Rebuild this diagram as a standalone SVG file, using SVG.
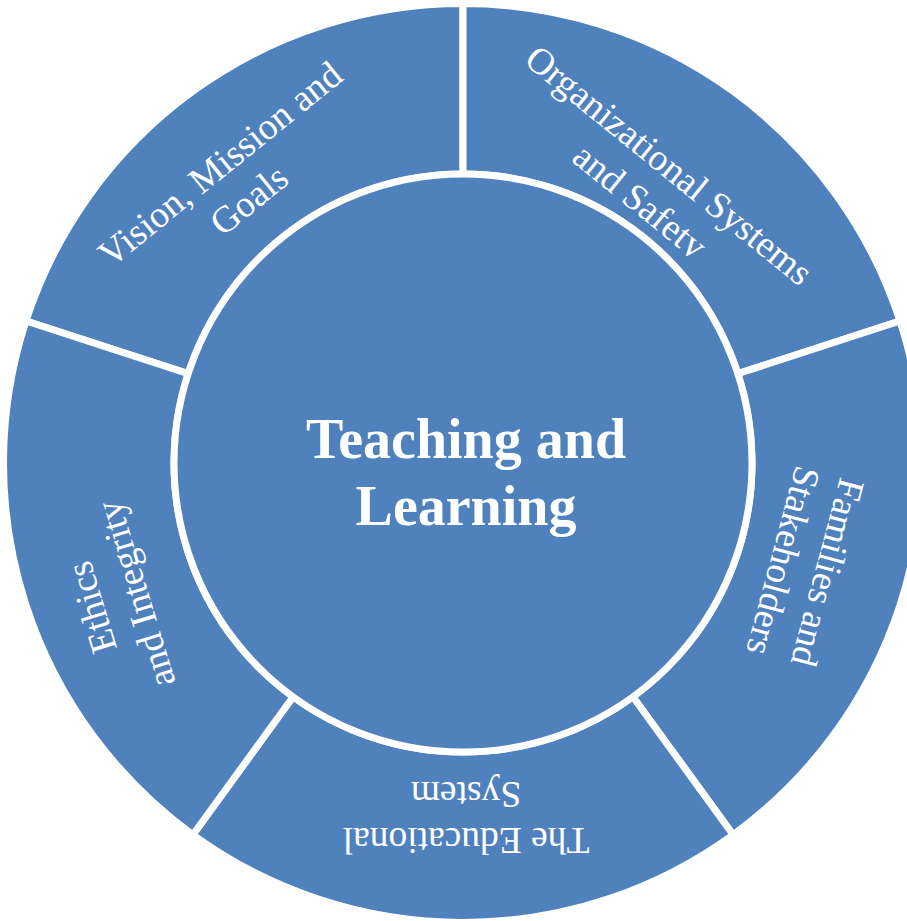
<svg xmlns="http://www.w3.org/2000/svg" width="907" height="921" viewBox="0 0 907 921">
<style>
.seg{fill:#4F81BD;stroke:#FFFFFF;stroke-width:7;stroke-linejoin:miter}
.hub{fill:#4F81BD;stroke:#FFFFFF;stroke-width:7}
.lbl{font-family:"Liberation Serif","Times New Roman",serif;font-size:37.5px;fill:#FFFFFF;text-anchor:middle}
.ctr{font-family:"Liberation Serif","Times New Roman",serif;font-size:56px;font-weight:bold;fill:#FFFFFF;text-anchor:middle}
</style>
<defs>
<clipPath id="clipSafety" clipPathUnits="userSpaceOnUse"><rect x="-300" y="-90" width="600" height="124"/></clipPath>
</defs>
<rect width="907" height="921" fill="#FFFFFF"/>
<g id="vision">
<path class="seg" d="M25.99 321.01 A459.5 459.5 0 0 1 463 3.5 L463 174 A289 289 0 0 0 188.14 373.69 Z"/>
<g transform="translate(236,184) rotate(-39)">
<text class="lbl" x="0" y="-13">Vision, Mission and</text>
<text class="lbl" x="0" y="33">Goals</text>
</g>
</g>
<g id="organizational">
<path class="seg" d="M463 3.5 A459.5 459.5 0 0 1 900.01 321.01 L737.86 373.69 A289 289 0 0 0 463 174 Z"/>
<g transform="translate(653,185) rotate(39)">
<text class="lbl" x="0" y="-13">Organizational Systems</text>
<text class="lbl" x="0" y="33" clip-path="url(#clipSafety)">and Safety</text>
</g>
</g>
<g id="families">
<path class="seg" d="M900.01 321.01 A459.5 459.5 0 0 1 733.09 834.74 L632.87 696.81 A289 289 0 0 0 737.86 373.69 Z"/>
<g transform="translate(803,566) rotate(105)">
<text class="lbl" x="0" y="-13">Families and</text>
<text class="lbl" x="0" y="33">Stakeholders</text>
</g>
</g>
<g id="educational">
<path class="seg" d="M733.09 834.74 A459.5 459.5 0 0 1 192.91 834.74 L293.13 696.81 A289 289 0 0 0 632.87 696.81 Z"/>
<g transform="translate(466,815) rotate(180)">
<text class="lbl" x="0" y="-13">The Educational</text>
<text class="lbl" x="0" y="33">System</text>
</g>
</g>
<g id="ethics">
<path class="seg" d="M192.91 834.74 A459.5 459.5 0 0 1 25.99 321.01 L188.14 373.69 A289 289 0 0 0 293.13 696.81 Z"/>
<g transform="translate(116,600) rotate(-107)">
<text class="lbl" x="0" y="-13">Ethics</text>
<text class="lbl" x="0" y="33">and Integrity</text>
</g>
</g>
<g id="teaching">
<circle class="hub" cx="463" cy="463" r="289"/>
<text class="ctr" x="466" y="458">Teaching and</text>
<text class="ctr" x="466" y="525">Learning</text>
</g>
<g id="connectors"></g>
</svg>
